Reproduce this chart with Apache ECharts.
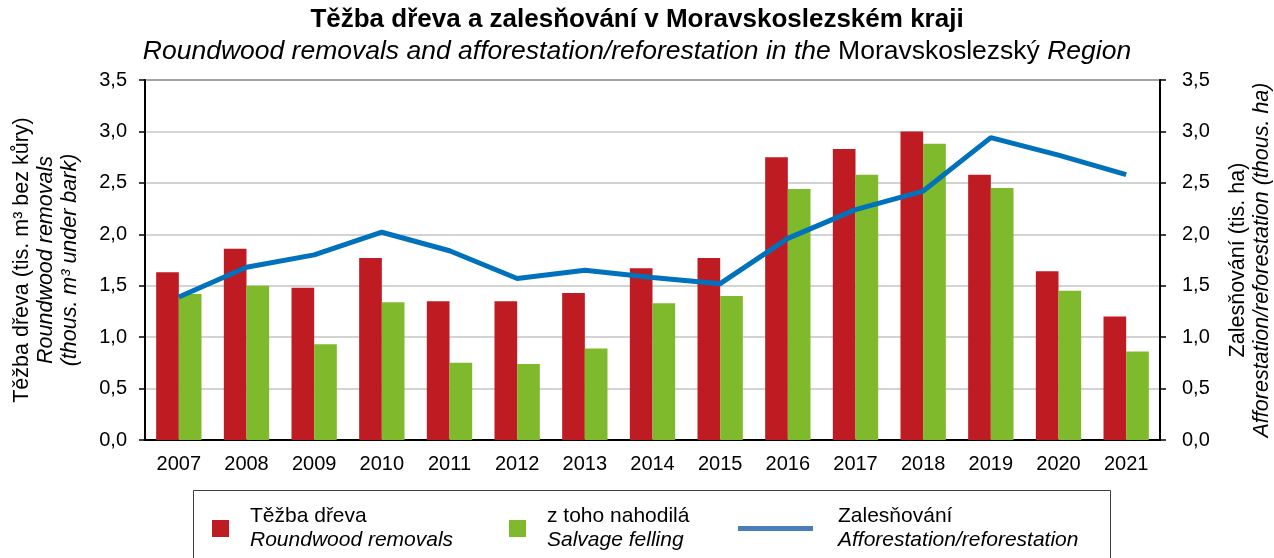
<!DOCTYPE html>
<html lang="cs">
<head>
<meta charset="UTF-8">
<title>Těžba dřeva a zalesňování v Moravskoslezském kraji</title>
<script src="https://cdn.jsdelivr.net/npm/echarts@6/dist/echarts.min.js"></script>
<style>
  html, body { margin: 0; padding: 0; background: #fff; }
  #main { width: 1274px; height: 558px; }
</style>
</head>
<body>
<div id="main"></div>
<script type="text/javascript">
// data
var years = ['2007', '2008', '2009', '2010', '2011', '2012', '2013', '2014', '2015', '2016', '2017', '2018', '2019', '2020', '2021'];
var removals = [1.63, 1.86, 1.48, 1.77, 1.35, 1.35, 1.43, 1.67, 1.77, 2.75, 2.83, 3.00, 2.58, 1.64, 1.20];
var salvage = [1.42, 1.50, 0.93, 1.34, 0.75, 0.74, 0.89, 1.33, 1.40, 2.44, 2.58, 2.88, 2.45, 1.45, 0.86];
var afforestation = [1.39, 1.68, 1.80, 2.02, 1.84, 1.57, 1.65, 1.58, 1.52, 1.96, 2.24, 2.42, 2.94, 2.77, 2.58];

var FONT = '"Liberation Sans", Arial, sans-serif';
var RED = '#be1b23', GREEN = '#7fba2d', BLUE = '#0072bc';

var myChart = echarts.init(document.getElementById('main'));

function comma(v) { return v.toFixed(1).replace('.', ','); }

// rich text: upright (n) and italic (i) lines
function richLines(size, lh) {
    return {
        n: { fontFamily: FONT, fontSize: size, color: '#000', lineHeight: lh },
        i: { fontFamily: FONT, fontSize: size, color: '#000', lineHeight: lh, fontStyle: 'italic' }
    };
}

function legendFor(name, lines, x, w, h, gap) {
    return {
        data: [{ name: name, icon: 'rect' }],
        left: x, top: 501,
        itemWidth: w, itemHeight: h,
        selectedMode: false,
        formatter: function () { return '{n|' + lines[0] + '}\n{i|' + lines[1] + '}'; },
        textStyle: { rich: richLines(21, 24), padding: [0, 0, 0, gap] }
    };
}

var option = {
    animation: false,
    textStyle: { fontFamily: FONT },
    title: {
        left: 'center', top: 2,
        text: 'Těžba dřeva a zalesňování v Moravskoslezském kraji',
        textStyle: { fontFamily: FONT, fontSize: 26, fontWeight: 'bold', color: '#000' },
        subtext: '{i|Roundwood removals and afforestation/reforestation in the }{n|Moravskoslezský }{i|Region}',
        itemGap: 4,
        subtextStyle: { rich: richLines(26.5, 30) }
    },
    graphic: [{
        type: 'rect',
        shape: { x: 193.5, y: 490.5, width: 917, height: 80 },
        style: { fill: 'none', stroke: '#404040', lineWidth: 1 }
    }],
    legend: [
        legendFor('Těžba dřeva', ['Těžba dřeva', 'Roundwood removals'], 207, 17, 17, 16),
        legendFor('z toho nahodilá', ['z toho nahodilá', 'Salvage felling'], 504, 17, 17, 16),
        legendFor('Zalesňování', ['Zalesňování', 'Afforestation/reforestation'], 733, 75, 5, 20)
    ],
    grid: {
        left: 145, right: 114, top: 80, bottom: 118,
        outerBoundsMode: 'none', containLabel: false,
        show: true, borderColor: '#000', borderWidth: 1.5
    },
    xAxis: {
        type: 'category',
        data: years,
        axisLine: { lineStyle: { color: '#000', width: 2 } },
        axisTick: { length: 6, lineStyle: { color: '#000', width: 2 } },
        axisLabel: { color: '#000', fontSize: 20, margin: 14 }
    },
    yAxis: [
        {
            type: 'value', min: 0, max: 3.5, interval: 0.5,
            name: '{n|Těžba dřeva (tis. m³ bez kůry)}\n{i|Roundwood removals}\n{i|(thous. m³ under bark)}',
            nameLocation: 'middle', nameGap: 63, nameRotate: 90,
            nameTextStyle: { rich: richLines(21.5, 24) },
            axisLine: { show: true, lineStyle: { color: '#000', width: 2 } },
            axisTick: { show: true, length: 6, lineStyle: { color: '#000', width: 1.5 } },
            axisLabel: { color: '#000', fontSize: 20, margin: 18, formatter: comma },
            splitLine: { lineStyle: { color: '#c4c4c4', width: 1.5 } }
        },
        {
            type: 'value', min: 0, max: 3.5, interval: 0.5, position: 'right',
            name: '{n|Zalesňování (tis. ha)}\n{i|Afforestation/reforestation (thous. ha)}',
            nameLocation: 'middle', nameGap: 66, nameRotate: 90,
            nameTextStyle: { rich: richLines(21.5, 24) },
            axisLine: { show: true, lineStyle: { color: '#000', width: 2 } },
            axisTick: { show: true, length: 6, lineStyle: { color: '#000', width: 1.5 } },
            axisLabel: { color: '#000', fontSize: 20, margin: 22, formatter: comma },
            splitLine: { show: false }
        }
    ],
    series: [
        {
            name: 'Těžba dřeva', type: 'bar', data: removals,
            barGap: '0%', barCategoryGap: '33%',
            itemStyle: { color: RED }
        },
        {
            name: 'z toho nahodilá', type: 'bar', data: salvage,
            itemStyle: { color: GREEN }
        },
        {
            name: 'Zalesňování', type: 'line', yAxisIndex: 1, data: afforestation,
            symbol: 'none', z: 5,
            lineStyle: { color: BLUE, width: 5 },
            itemStyle: { color: '#4a7ebb' }
        }
    ]
};

myChart.setOption(option);
</script>
</body>
</html>
